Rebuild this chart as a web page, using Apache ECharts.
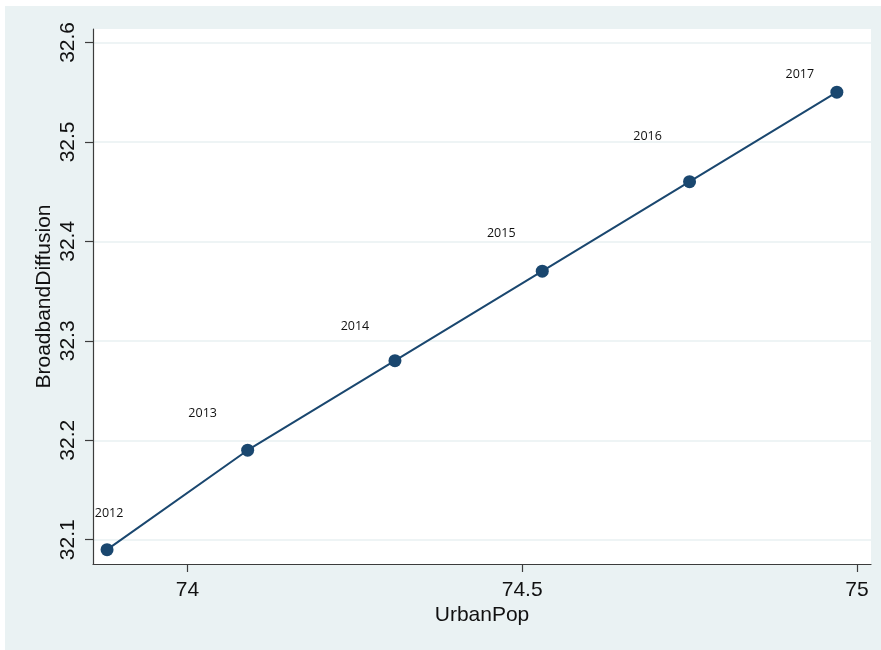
<!DOCTYPE html>
<html>
<head>
<meta charset="utf-8">
<script src="https://cdn.jsdelivr.net/npm/echarts@6/dist/echarts.min.js"></script>
<style>
  html, body { margin: 0; padding: 0; background: #ffffff; }
  #wrap { position: relative; width: 881px; height: 650px; background: #ffffff; overflow: hidden; }
  #chart { position: absolute; left: 5px; top: 6px; width: 876px; height: 644px; }
</style>
</head>
<body>
<div id="wrap"><div id="chart"></div></div>
<script>
// Yearly observations
const years = [2012, 2013, 2014, 2015, 2016, 2017];
const urbanPop = [73.88, 74.09, 74.31, 74.53, 74.75, 74.97];
const broadbandDiffusion = [32.09, 32.19, 32.28, 32.37, 32.46, 32.55];

// Axis tick labels
const xTicks = [74, 74.5, 75];
const yTicks = [32.1, 32.2, 32.3, 32.4, 32.5, 32.6];

// Year label placement relative to each marker (pixels)
const yearLabelShift = [[2, -36], [-45, -37], [-40, -34], [-41, -38], [-42, -45], [-37, -18]];

const NAVY = '#1a476f';
const AXIS = '#3c3c3c';
const GRID = '#e8f0f2';
const FONT = '"Liberation Sans", Arial, sans-serif';

const points = years.map((y, i) => ({
  value: [urbanPop[i], broadbandDiffusion[i]],
  label: { offset: yearLabelShift[i] }
}));

const chart = echarts.init(document.getElementById('chart'), null, { renderer: 'canvas' });
chart.setOption({
  backgroundColor: '#eaf2f3',
  animation: false,
  grid: {
    left: 88, top: 23, right: 10, bottom: 86,
    show: true, backgroundColor: '#ffffff', borderWidth: 0
  },
  xAxis: {
    type: 'value',
    min: 73.859, max: 75.021,
    name: 'UrbanPop',
    nameLocation: 'middle',
    nameGap: 41,
    nameMoveOverlap: false,
    nameTextStyle: { fontFamily: FONT, fontSize: 21, color: '#111' },
    axisLine: { show: true, onZero: false, lineStyle: { color: AXIS, width: 1.2 } },
    axisTick: { show: true, length: 8, customValues: xTicks, lineStyle: { color: AXIS, width: 1.2 } },
    axisLabel: { customValues: xTicks, margin: 16, fontFamily: FONT, fontSize: 21, color: '#111' },
    splitLine: { show: false }
  },
  yAxis: {
    type: 'value',
    min: 32.0756, max: 32.6135,
    name: 'BroadbandDiffusion',
    nameLocation: 'middle',
    nameGap: 38,
    nameMoveOverlap: false,
    nameTextStyle: { fontFamily: FONT, fontSize: 21, color: '#111' },
    axisLine: { show: true, onZero: false, lineStyle: { color: AXIS, width: 1.2 } },
    axisTick: { show: true, length: 8, customValues: yTicks, lineStyle: { color: AXIS, width: 1.2 } },
    axisLabel: {
      customValues: yTicks, rotate: 90, margin: 14,
      fontFamily: FONT, fontSize: 21, color: '#111',
      formatter: v => v.toFixed(1)
    },
    splitLine: { show: true, lineStyle: { color: GRID, width: 1.5 } }
  },
  series: [{
    type: 'line',
    data: points,
    symbol: 'circle',
    symbolSize: 13,
    lineStyle: { color: NAVY, width: 2 },
    itemStyle: { color: NAVY },
    label: {
      show: true,
      position: 'inside',
      align: 'center',
      verticalAlign: 'middle',
      fontFamily: '"Open Sans", "Noto Sans", sans-serif',
      fontSize: 12.5,
      color: '#111',
      formatter: p => String(years[p.dataIndex])
    },
    emphasis: { disabled: true }
  }]
});
</script>
</body>
</html>
